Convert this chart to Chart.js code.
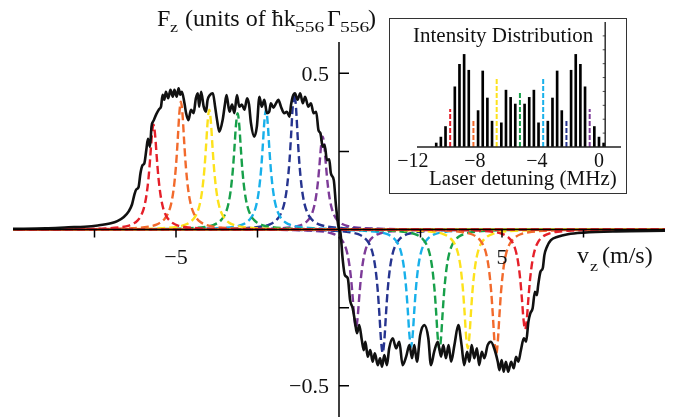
<!DOCTYPE html>
<html>
<head>
<meta charset="utf-8">
<title>Force vs velocity</title>
<script src="https://cdn.jsdelivr.net/npm/chart.js@4.4.1/dist/chart.umd.min.js"></script>
<style>
  html, body { margin: 0; padding: 0; background: #fff; }
  #wrap { position: relative; width: 677px; height: 420px; overflow: hidden; }
  #main { position: absolute; left: 0; top: 0; }
  #inset-box { position: absolute; left: 389px; top: 18px; width: 236px; height: 174px; border: 1px solid #333; background: #fff; }
  #inset { display: block; }
</style>
</head>
<body>
<div id="wrap">
  <canvas id="main" width="677" height="420"></canvas>
  <div id="inset-box"><canvas id="inset" width="236" height="174"></canvas></div>
</div>
<script>
  // total force (black), v in m/s, F in units of hbar k Gamma
  var velocity = [
    -10, -9, -8.3, -7.8, -7.4, -7.0, -6.8, -6.6, -6.45, -6.35, -6.28, -6.22, -6.15, -6.09, -6.03, -5.97,
    -5.91, -5.86, -5.80, -5.75, -5.68, -5.60, -5.52, -5.46, -5.41, -5.36, -5.31, -5.24, -5.17, -5.10,
    -5.05, -4.98, -4.92, -4.87, -4.82, -4.74, -4.69, -4.62, -4.54, -4.46, -4.39, -4.33, -4.29, -4.23,
    -4.15, -4.08, -4.03, -3.96, -3.87, -3.80, -3.74, -3.67, -3.57, -3.50, -3.45, -3.36, -3.28, -3.21,
    -3.13, -3.06, -2.98, -2.90, -2.82, -2.76, -2.70, -2.60, -2.52, -2.44, -2.37, -2.29, -2.21, -2.14,
    -2.09, -2.01, -1.93, -1.86, -1.78, -1.68, -1.60, -1.52, -1.47, -1.42, -1.35, -1.27, -1.19, -1.11,
    -1.04, -0.94, -0.86, -0.78, -0.70, -0.63, -0.57, -0.50, -0.44, -0.37, -0.30, -0.25, -0.16, -0.09,
    0.0, 0.04, 0.11, 0.18, 0.27, 0.34, 0.42, 0.49, 0.55, 0.62, 0.70, 0.76, 0.81, 0.88, 0.96, 1.03,
    1.10, 1.19, 1.26, 1.32, 1.39, 1.47, 1.54, 1.65, 1.75, 1.85, 1.95, 2.06, 2.16, 2.24, 2.31, 2.39,
    2.49, 2.62, 2.74, 2.82, 2.92, 3.03, 3.13, 3.20, 3.28, 3.36, 3.44, 3.54, 3.66, 3.76, 3.84, 3.93,
    4.00, 4.07, 4.15, 4.23, 4.30, 4.38, 4.46, 4.56, 4.66, 4.76, 4.87, 4.92, 4.99, 5.05, 5.12, 5.19,
    5.28, 5.36, 5.43, 5.50, 5.58, 5.67, 5.74, 5.81, 5.87, 5.94, 6.01, 6.07, 6.11, 6.18, 6.25, 6.30,
    6.38, 6.50, 6.71, 7.02, 7.5, 8.5, 10
  ];
  var force = [
    0.002, 0.004, 0.007, 0.009, 0.013, 0.02, 0.027, 0.04, 0.058, 0.08, 0.11, 0.128, 0.135, 0.18, 0.205, 0.212,
    0.255, 0.29, 0.265, 0.33, 0.35, 0.37, 0.385, 0.393, 0.431, 0.415, 0.441, 0.42, 0.447, 0.425,
    0.447, 0.425, 0.452, 0.431, 0.441, 0.404, 0.372, 0.35, 0.383, 0.372, 0.42, 0.436, 0.393, 0.441,
    0.393, 0.377, 0.415, 0.43, 0.436, 0.393, 0.35, 0.313, 0.35, 0.40, 0.43, 0.377, 0.40, 0.372,
    0.43, 0.393, 0.40, 0.383, 0.42, 0.40, 0.34, 0.297, 0.329, 0.425, 0.393, 0.415, 0.372, 0.377,
    0.404, 0.39, 0.404, 0.415, 0.393, 0.372, 0.377, 0.361, 0.40, 0.425, 0.436, 0.415, 0.436, 0.404,
    0.425, 0.393, 0.404, 0.372, 0.377, 0.318, 0.308, 0.265, 0.27, 0.222, 0.225, 0.18, 0.158, 0.073,
    0.0, -0.007, -0.092, -0.146, -0.156, -0.226, -0.252, -0.295, -0.332, -0.306, -0.354, -0.386, -0.359, -0.407, -0.386, -0.423,
    -0.396, -0.434, -0.412, -0.439, -0.402, -0.434, -0.38, -0.348, -0.38, -0.359, -0.434, -0.407, -0.37, -0.412, -0.37, -0.423,
    -0.338, -0.306, -0.348, -0.434, -0.391, -0.359, -0.407, -0.37, -0.412, -0.37, -0.423, -0.37, -0.306, -0.37, -0.434, -0.391,
    -0.423, -0.37, -0.412, -0.38, -0.434, -0.391, -0.412, -0.37, -0.359, -0.38, -0.423, -0.45, -0.418, -0.455, -0.423, -0.455,
    -0.423, -0.444, -0.407, -0.423, -0.386, -0.348, -0.359, -0.295, -0.268, -0.252, -0.199, -0.21, -0.178, -0.135, -0.124, -0.082,
    -0.055, -0.034, -0.023, -0.015, -0.01, -0.006, -0.004
  ];

  // single comb-line forces (dashed), red .. purple
  var lineColors = ["#e5202a", "#f26a2c", "#fde21c", "#17a04a", "#18b0ea", "#26348f", "#7d3b98"];
  var peakCentersNeg = [-5.69, -4.85, -3.98, -3.11, -2.24, -1.37, -0.50];
  var peakHeightsNeg = [0.335, 0.409, 0.383, 0.372, 0.383, 0.436, 0.297];
  var peakCentersPos = [5.71, 4.82, 3.95, 3.08, 2.21, 1.34, 0.52];
  var peakHeightsPos = [-0.32, -0.40, -0.38, -0.385, -0.375, -0.395, -0.315];
  // shape of one dashed peak (offset in m/s, fraction of its height)
  var peakOffsets = [-20, -5, -3, -2, -1.5, -1, -0.75, -0.6, -0.5, -0.4, -0.3, -0.22, -0.15, -0.1, -0.05, 0,
    0.05, 0.1, 0.15, 0.22, 0.3, 0.4, 0.5, 0.6, 0.75, 1, 1.5, 2, 3, 5, 20];
  var peakShape = [0, 0.001, 0.0025, 0.0056, 0.01, 0.022, 0.038, 0.059, 0.083, 0.123, 0.2, 0.32, 0.5, 0.69, 0.9, 1,
    0.9, 0.69, 0.5, 0.32, 0.2, 0.123, 0.083, 0.059, 0.038, 0.022, 0.01, 0.0056, 0.0025, 0.001, 0];

  var xTicks = [-7.5, -5, -2.5, 2.5, 5, 7.5];
  var xLabelValues = [-5, 5];
  var xLabelText = ["\u22125", "5"];
  var yTicks = [-0.5, -0.25, 0.25, 0.5];
  var yLabelValues = [-0.5, 0.5];
  var yLabelText = ["\u22120.5", "0.5"];

  // inset: laser intensity distribution
  var detuning = [-10.5, -10.2, -9.9, -9.6, -9.3, -9.0, -8.7, -8.4, -8.1, -7.8, -7.5, -7.2, -6.9, -6.6, -6.3,
    -6.0, -5.7, -5.4, -5.1, -4.8, -4.5, -4.2, -3.9, -3.6, -3.3, -3.0, -2.7, -2.4, -2.1, -1.8, -1.5, -1.2,
    -0.9, -0.6, -0.3, 0.0, 0.3];
  var intensity = [0.043, 0.107, 0.221, 0.411, 0.65, 0.893, 1.0, 0.829, 0.296, 0.393, 0.821, 0.529, 0.279,
    0.757, 0.261, 0.614, 0.536, 0.464, 0.6, 0.464, 0.536, 0.614, 0.261, 0.757, 0.279, 0.529, 0.821, 0.393,
    0.296, 0.829, 1.0, 0.893, 0.65, 0.411, 0.221, 0.107, 0.043];
  var markedIdx = [3, 8, 13, 18, 23, 28, 33];
  var insetTicks = [-12, -8, -4, 0];
  var insetTickText = ["\u221212", "\u22128", "\u22124", "0"];
  var insetYTicks = [0.15, 0.3, 0.45, 0.6, 0.75, 0.9, 1.05, 1.2];
  var insetAxisAt = 0.4;

  var FONT = "'Liberation Serif', 'Times New Roman', serif";

  function subText(ctx, txt, x, y, size, stretch) {
    ctx.save();
    ctx.font = size + "px " + FONT;
    ctx.translate(x, y);
    ctx.scale(stretch, 1);
    ctx.fillText(txt, 0, 0);
    ctx.restore();
  }

  var mainAxes = {
    id: "mainAxes",
    afterDatasetsDraw: function (chart) {
      var ctx = chart.ctx, xs = chart.scales.x, ys = chart.scales.y, a = chart.chartArea;
      var x0 = xs.getPixelForValue(0), y0 = ys.getPixelForValue(0);
      ctx.save();
      ctx.strokeStyle = "#000";
      ctx.lineWidth = 1.5;
      ctx.beginPath();
      ctx.moveTo(a.left, y0); ctx.lineTo(a.right, y0);
      ctx.moveTo(x0, a.top); ctx.lineTo(x0, a.bottom);
      xTicks.forEach(function (v) {
        var px = xs.getPixelForValue(v);
        ctx.moveTo(px, y0); ctx.lineTo(px, y0 + 8);
      });
      yTicks.forEach(function (v) {
        var py = ys.getPixelForValue(v);
        ctx.moveTo(x0, py); ctx.lineTo(x0 + 10, py);
      });
      ctx.stroke();

      ctx.fillStyle = "#111";
      ctx.textBaseline = "alphabetic";
      ctx.font = "22px " + FONT;
      ctx.textAlign = "center";
      xLabelValues.forEach(function (v, i) {
        ctx.fillText(xLabelText[i], xs.getPixelForValue(v), y0 + 34.5);
      });
      ctx.textAlign = "right";
      yLabelValues.forEach(function (v, i) {
        ctx.fillText(yLabelText[i], x0 - 10, ys.getPixelForValue(v) + 7.5);
      });

      // axis titles
      ctx.textAlign = "left";
      ctx.font = "24px " + FONT;
      ctx.fillText("F", 157, 26);
      subText(ctx, "z", 170, 32, 15, 1.2);
      ctx.fillText("(units of \u0127k", 185, 26);
      subText(ctx, "556", 295, 32, 15, 1.3);
      ctx.fillText("\u0393", 327, 26);
      subText(ctx, "556", 340, 32, 15, 1.3);
      ctx.fillText(")", 368, 26);

      ctx.fillText("v", 577, 263);
      subText(ctx, "z", 590, 271, 15, 1.2);
      ctx.fillText("(m/s)", 602, 263);
      ctx.restore();
    }
  };

  var insetAxes = {
    id: "insetAxes",
    afterDatasetsDraw: function (chart) {
      var ctx = chart.ctx, xs = chart.scales.x, ys = chart.scales.y, a = chart.chartArea;
      var y0 = ys.getPixelForValue(0), xr = xs.getPixelForValue(insetAxisAt);
      ctx.save();
      ctx.strokeStyle = "#222";
      ctx.lineWidth = 1.4;
      ctx.beginPath();
      ctx.moveTo(a.left, y0); ctx.lineTo(a.right, y0);
      ctx.moveTo(xr, a.top); ctx.lineTo(xr, y0);
      ctx.stroke();
      ctx.lineWidth = 0.8;
      ctx.beginPath();
      insetYTicks.forEach(function (v) {
        var py = ys.getPixelForValue(v);
        ctx.moveTo(xr, py); ctx.lineTo(xr - 2.5, py);
      });
      ctx.stroke();

      ctx.fillStyle = "#111";
      ctx.textBaseline = "alphabetic";
      ctx.font = "20px " + FONT;
      ctx.textAlign = "center";
      insetTicks.forEach(function (v, i) {
        ctx.fillText(insetTickText[i], xs.getPixelForValue(v), y0 + 20);
      });
      ctx.textAlign = "left";
      ctx.font = "21px " + FONT;
      ctx.fillText("Intensity Distribution", 23, 23);
      ctx.fillText("Laser detuning (MHz)", 39, 166);
      ctx.restore();
    }
  };

  function peakData(center, height) {
    return peakOffsets.map(function (d, i) {
      return { x: center + d, y: height * peakShape[i] };
    });
  }

  var mainSets = [{
    label: "total",
    data: velocity.map(function (v, i) { return { x: v, y: force[i] }; }),
    borderColor: "#111",
    borderWidth: 2.6,
    cubicInterpolationMode: "monotone",
    order: 0
  }];
  lineColors.forEach(function (c, i) {
    mainSets.push({
      label: "neg" + i,
      data: peakData(peakCentersNeg[i], peakHeightsNeg[i]),
      borderColor: c, borderWidth: 2.4, borderDash: [8, 4],
      cubicInterpolationMode: "monotone", order: 1
    });
    mainSets.push({
      label: "pos" + i,
      data: peakData(peakCentersPos[i], peakHeightsPos[i]),
      borderColor: c, borderWidth: 2.4, borderDash: [8, 4],
      cubicInterpolationMode: "monotone", order: 1
    });
  });

  new Chart(document.getElementById("main"), {
    type: "line",
    data: { datasets: mainSets },
    options: {
      responsive: false,
      animation: false,
      devicePixelRatio: 1,
      layout: { padding: { left: 13, right: 12, top: 42, bottom: 3 } },
      elements: { point: { radius: 0 } },
      scales: {
        x: { type: "linear", min: -10, max: 10, display: false },
        y: { type: "linear", min: -0.6, max: 0.6, display: false }
      },
      plugins: { legend: { display: false }, tooltip: { enabled: false } }
    },
    plugins: [mainAxes]
  });

  var insetSets = [{
    type: "bar",
    label: "comb",
    data: detuning.map(function (d, i) { return { x: d, y: intensity[i] }; })
      .filter(function (p, i) { return markedIdx.indexOf(i) < 0; }),
    backgroundColor: "#000",
    barThickness: 2,
    grouped: false,
    order: 2
  }];
  markedIdx.forEach(function (k, i) {
    insetSets.push({
      type: "line",
      label: "mark" + i,
      data: [{ x: detuning[k], y: 0 }, { x: detuning[k], y: intensity[k] }],
      borderColor: lineColors[i], borderWidth: 2, borderDash: [5, 2],
      pointRadius: 0, order: 1
    });
  });

  new Chart(document.getElementById("inset"), {
    type: "bar",
    data: { datasets: insetSets },
    options: {
      responsive: false,
      animation: false,
      devicePixelRatio: 1,
      layout: { padding: { left: 27, right: 5, top: 3, bottom: 46 } },
      scales: {
        x: { type: "linear", min: -11.74, max: 1.42, offset: false, display: false },
        y: { type: "linear", min: 0, max: 1.35, display: false }
      },
      plugins: { legend: { display: false }, tooltip: { enabled: false } }
    },
    plugins: [insetAxes]
  });
</script>
</body>
</html>
